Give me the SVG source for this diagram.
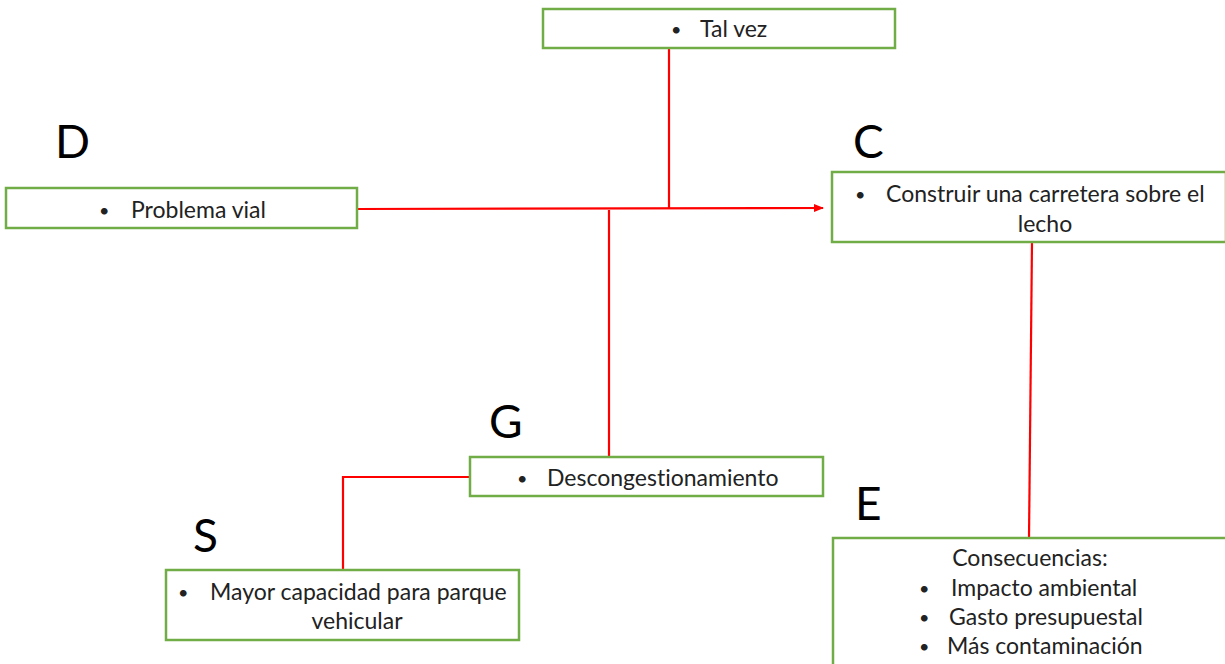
<svg xmlns="http://www.w3.org/2000/svg" width="1225" height="664" viewBox="0 0 1225 664">
<style>
.box{fill:#fff;stroke:#70AD47;stroke-width:2.5}
.t{font-family:Lato,"Open Sans","Liberation Sans",sans-serif;font-size:23px;fill:#222;font-variant-ligatures:none}
.b{font-family:Lato,"Open Sans","Liberation Sans",sans-serif;font-size:18px;fill:#222}
.big{font-family:Lato,"Open Sans","Liberation Sans",sans-serif;font-size:46px;fill:#000}
.c{fill:none;stroke:#FF0000;stroke-width:2.2}
</style>
<defs>
<marker id="arr" markerWidth="10" markerHeight="8" refX="9" refY="4" orient="auto" markerUnits="userSpaceOnUse">
<path d="M0,0 L10,4 L0,8 z" fill="#FF0000"/>
</marker>
</defs>
<rect width="1225" height="664" fill="#fff"/>
<g id="connectors">
<line class="c" x1="669" y1="48" x2="669" y2="208"/>
<line class="c" x1="357" y1="209" x2="823" y2="208" marker-end="url(#arr)"/>
<line class="c" x1="609" y1="210" x2="609" y2="457"/>
<line class="c" x1="1032" y1="242" x2="1029" y2="538"/>
<polyline class="c" points="470,477 343,477 343,570"/>
</g>
<g id="labels">
<text class="big" x="55" y="158">D</text>
<text class="big" x="853" y="158">C</text>
<text class="big" x="489" y="438">G</text>
<text class="big" x="855" y="520">E</text>
<text class="big" x="193" y="552">S</text>
</g>
<g id="n-talvez">
<rect class="box" x="543" y="9" width="352" height="39"/>
<text class="b" x="671" y="36">•</text>
<text class="t" x="700" y="37">Tal vez</text>
</g>
<g id="n-problema">
<rect class="box" x="6" y="188" width="351" height="40"/>
<text class="b" x="99" y="217">•</text>
<text class="t" x="131" y="218">Problema vial</text>
</g>
<g id="n-construir">
<rect class="box" x="832" y="172" width="394" height="70"/>
<text class="b" x="855" y="201">•</text>
<text class="t" x="886" y="202">Construir una carretera sobre el</text>
<text class="t" x="1045" y="232" text-anchor="middle">lecho</text>
</g>
<g id="n-descong">
<rect class="box" x="470" y="457" width="353" height="39"/>
<text class="b" x="517" y="485">•</text>
<text class="t" x="547" y="486">Descongestionamiento</text>
</g>
<g id="n-mayor">
<rect class="box" x="166" y="570" width="353" height="70"/>
<text class="b" x="178" y="599">•</text>
<text class="t" x="210" y="600">Mayor capacidad para parque</text>
<text class="t" x="357" y="629" text-anchor="middle">vehicular</text>
</g>
<g id="n-consec">
<rect class="box" x="833" y="538" width="394" height="130"/>
<text class="t" x="1030" y="566" text-anchor="middle">Consecuencias:</text>
<text class="b" x="919" y="595">•</text>
<text class="t" x="951" y="596">Impacto ambiental</text>
<text class="b" x="919" y="624">•</text>
<text class="t" x="949" y="625">Gasto presupuestal</text>
<text class="b" x="919" y="653">•</text>
<text class="t" x="947" y="654">Más contaminación</text>
</g>
</svg>
